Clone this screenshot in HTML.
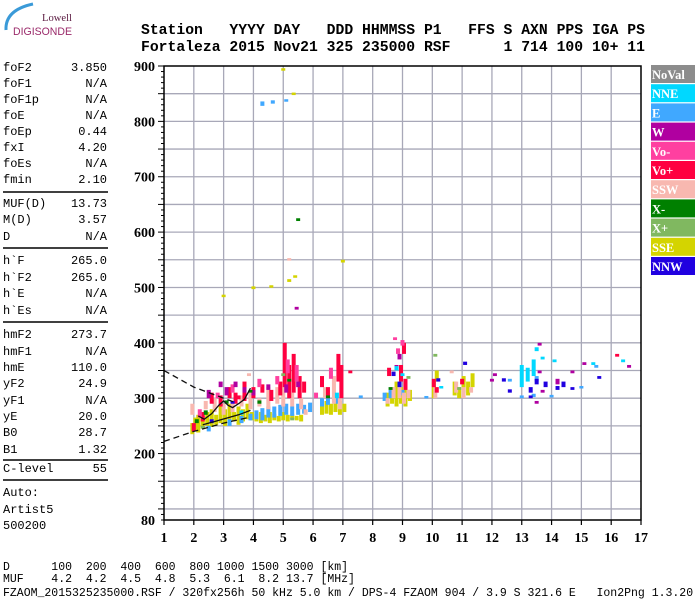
<!DOCTYPE html>
<html><head><meta charset="utf-8">
<style>
html,body{margin:0;padding:0;background:#fff;}
svg{display:block;}
.hdr{font-family:"Liberation Mono",monospace;font-weight:bold;font-size:14.5px;fill:#000;}
.lp{font-family:"Liberation Mono",monospace;font-size:12px;fill:#000;}
.ax{font-family:"Liberation Serif",serif;font-weight:bold;font-size:14px;fill:#000;}
.lg{font-family:"Liberation Serif",serif;font-weight:bold;font-size:12.5px;fill:#fff;}
.bt{font-family:"Liberation Mono",monospace;font-size:11.5px;fill:#000;}
</style></head>
<body>
<svg id="chart" width="700" height="600" viewBox="0 0 700 600" xmlns="http://www.w3.org/2000/svg">
  <g>
    <path d="M6,30 Q5,10 33,4" stroke="#3a9ad8" stroke-width="3" fill="none"/>
    <text x="42" y="21" font-family="Liberation Serif,serif" font-size="11" fill="#5a1a40" textLength="30" lengthAdjust="spacingAndGlyphs">Lowell</text>
    <text x="13" y="35" font-family="Liberation Sans,sans-serif" font-size="11" fill="#9a2a6a" textLength="59" lengthAdjust="spacingAndGlyphs">DIGISONDE</text>
  </g>
  <g>
    <text class="hdr" x="141" y="34" xml:space="preserve" textLength="504" lengthAdjust="spacingAndGlyphs">Station   YYYY DAY   DDD HHMMSS P1   FFS S AXN PPS IGA PS</text>
    <text class="hdr" x="141" y="51" xml:space="preserve" textLength="504" lengthAdjust="spacingAndGlyphs">Fortaleza 2015 Nov21 325 235000 RSF      1 714 100 10+ 11</text>
  </g>
  <g id="leftpanel"></g>
  <g id="grid"></g>
  <g id="echoes"></g>
  <g id="traces"></g>
  <g id="axes"></g>
  <g id="legend"></g>
  <g>
    <text class="bt" x="3" y="570" xml:space="preserve">D      100  200  400  600  800 1000 1500 3000 [km]</text>
    <text class="bt" x="3" y="582" xml:space="preserve">MUF    4.2  4.2  4.5  4.8  5.3  6.1  8.2 13.7 [MHz]</text>
    <text class="bt" x="3" y="596" xml:space="preserve">FZAOM_2015325235000.RSF / 320fx256h 50 kHz 5.0 km / DPS-4 FZAOM 904 / 3.9 S 321.6 E   Ion2Png 1.3.20</text>
  </g>
</svg>
<script>
// ---- data ----
const freqTicks = [1,2,3,4,5,6,7,8,9,10,11,12,13,14,15,16,17];
const heightLabels = [900,800,700,600,500,400,300,200,80];
const gridHeights = [850,800,750,700,650,600,550,500,450,400,350,300,250,200,150,100];
const legendNames = ["NoVal","NNE","E","W","Vo-","Vo+","SSW","X-","X+","SSE","NNW"];
const legendColors = ["#8c8c8c","#00d8ff","#40a8ff","#b000a0","#ff40a0","#ff0040","#f8b8b0","#008000","#80b860","#d4d400","#2000e0"];

// echoes per direction: [freqMHz, lowKm, highKm]
const sseEchoes = [[1.95,235,255],[2.05,240,265],[2.15,238,270],[2.3,245,268],[2.45,250,275],[2.6,248,280],[2.75,252,270],[2.9,255,285],[3.05,250,280],[3.2,255,290],[3.35,258,275],[3.5,252,285],[3.65,258,280],[3.8,262,290],[3.95,260,275],
 [4.1,258,272],[4.25,255,275],[4.4,258,270],[4.55,255,275],[4.7,260,272],[4.85,258,268],[5.0,260,275],[5.15,258,270],[5.3,262,272],[5.45,260,268],[5.6,258,270],
 [6.3,270,290],[6.45,272,295],[6.6,270,290],[6.75,275,292],[6.9,270,295],[7.05,275,290],
 [8.5,285,310],[8.65,290,320],[8.8,285,330],[8.95,290,320],[9.1,285,330],[9.25,295,315],
 [10.05,300,330],[10.15,330,350],[10.75,305,330],[10.9,300,320],[11.05,310,340],[11.2,305,330],[11.35,320,345],
 [3.0,483,487],[4.0,497,502],[4.6,500,504],[5.2,510,515],[5.4,518,522],[5.35,850,852],[5.0,893,896],[7.0,545,550]];
const eEchoes = [[2.5,240,250],[3.2,250,262],[3.6,255,268],[3.9,260,272],[4.1,262,278],[4.3,260,282],[4.5,265,285],[4.7,265,285],[4.9,268,288],[5.1,270,290],[5.3,268,285],[5.5,270,290],[5.7,272,288],[5.9,275,292],[6.3,285,300],[6.5,288,300],[6.8,290,300],[8.4,295,310],[8.6,300,315],[9.0,305,315],[13.0,300,305],[13.4,302,308],[14.0,302,306],[15.0,318,322],[15.5,355,360],[13.5,330,340],[7.6,300,305],[9.8,300,304],[12.6,330,335],[4.3,828,836],[4.65,832,838],[5.1,838,840]];
const voPlusEchoes = [[2.0,240,255],[2.3,258,275],[2.6,290,310],[2.9,285,305],[3.2,300,320],[3.4,290,310],[3.7,295,330],[4.0,300,320],[4.3,310,325],[4.6,295,315],[4.9,305,330],[5.05,320,400],[5.2,300,360],[5.35,310,380],[5.55,300,340],[5.7,310,330],[6.3,320,340],[6.5,300,320],[6.85,330,380],[6.95,300,360],[8.55,340,355],[8.95,330,360],[9.05,380,400],[10.05,320,335],[10.15,310,320],[11.0,325,335],[7.25,345,350],[16.2,375,380],[9.1,315,335],[3.5,298,305]];
const voMinusEchoes = [[2.2,265,280],[2.8,300,310],[3.3,310,325],[4.2,320,335],[4.8,325,340],[5.15,345,370],[5.45,330,360],[6.6,335,355],[8.85,380,390],[8.75,405,410],[9.0,395,405],[6.1,300,310]];
const sswEchoes = [[1.95,270,290],[2.4,280,295],[2.7,275,300],[3.0,270,290],[3.3,275,295],[3.6,285,305],[3.9,280,310],[4.2,285,300],[4.5,280,320],[4.8,290,320],[5.0,285,330],[5.3,285,310],[5.6,280,300],[5.75,270,280],[6.4,300,320],[6.7,290,340],[6.9,280,300],[8.5,290,300],[8.7,300,320],[8.9,300,330],[9.05,290,310],[9.2,300,315],[10.1,300,320],[10.8,310,330],[11.05,300,320],[11.3,310,320],[3.85,340,345],[5.2,550,553],[10.65,345,350]];
const wEchoes = [[2.5,300,315],[2.9,320,330],[3.1,305,320],[3.4,320,330],[3.7,310,320],[4.0,305,315],[4.5,315,325],[5.1,310,325],[5.5,320,330],[8.9,370,380],[12.0,330,335],[12.1,340,345],[13.6,345,350],[13.6,395,400],[14.2,325,335],[14.7,345,350],[15.1,360,365],[16.6,355,360],[13.5,290,295],[13.7,310,315],[5.45,460,465],[8.8,350,360]];
const nneEchoes = [[8.8,350,358],[9.0,340,345],[10.3,318,322],[13.0,320,360],[13.2,330,355],[13.4,340,370],[13.5,385,392],[13.7,370,375],[16.4,365,370],[15.4,360,365],[14.1,365,370],[6.8,300,310],[3.6,270,278]];
const nnwEchoes = [[2.6,255,262],[3.3,290,295],[8.7,340,348],[8.9,320,330],[10.2,330,336],[11.1,360,366],[12.4,330,336],[12.6,310,316],[13.3,310,320],[13.5,325,335],[13.8,320,330],[14.2,315,322],[14.4,320,330],[14.7,315,320],[15.6,335,340],[13.3,300,305]];
const xMinusEchoes = [[2.1,255,262],[2.4,270,278],[3.1,290,296],[3.9,310,315],[4.2,290,296],[5.2,330,335],[8.6,315,320],[6.5,300,305],[5.5,620,625]];
const xPlusEchoes = [[2.3,245,250],[5.0,340,345],[9.2,335,340],[10.1,375,380],[10.9,315,320],[5.3,260,265]];

// trace lines: [freq, height]
const upperDashed = [[1.0,350],[2.0,320],[3.0,300],[3.4,292]];
const lowerDashed = [[1.0,222],[2.0,240],[3.0,255],[3.9,266]];
const traceA = [[2.15,268],[2.35,262],[2.6,272],[2.85,288],[3.0,295],[3.15,287],[3.3,283],[3.5,290],[3.7,298],[3.9,318]];
const traceB = [[2.3,252],[2.7,258],[3.1,264],[3.5,270],[3.9,278]];

const panelRows = [["foF2","3.850",67],["foF1","N/A",83],["foF1p","N/A",99],["foE","N/A",115],["foEp","0.44",131],["fxI","4.20",147],["foEs","N/A",163],["fmin","2.10",179],
 ["MUF(D)","13.73",203],["M(D)","3.57",219],["D","N/A",236],
 ["h`F","265.0",260],["h`F2","265.0",277],["h`E","N/A",293],["h`Es","N/A",310],
 ["hmF2","273.7",334],["hmF1","N/A",351],["hmE","110.0",367],["yF2","24.9",383],["yF1","N/A",400],["yE","20.0",416],["B0","28.7",432],["B1","1.32",449],
 ["C-level","55",468],["Auto:","",492],["Artist5","",509],["500200","",525]];
const panelSeps = [192,248,322,460,480];

// ---- axis functions ----
const X0=164, X1=641, Y0=66, Y1=520;
const fx = f => X0 + (f-1)*(X1-X0)/16;
const hy = h => Y0 + (900-h)*(Y1-Y0)/820;
const NS="http://www.w3.org/2000/svg";
function mk(tag, attrs, parent){const e=document.createElementNS(NS,tag);for(const k in attrs)e.setAttribute(k,attrs[k]);parent.appendChild(e);return e;}

const lp=document.getElementById('leftpanel');
panelRows.forEach(([k,v,y])=>{
  const a=mk('text',{x:3,y:y+4,class:'lp'},lp);a.textContent=k;
  
  
  if(v){const b=mk('text',{x:107,y:y+4,class:'lp','text-anchor':'end'},lp);b.textContent=v;
  
  }
});
panelSeps.forEach(y=>{const l=mk('line',{x1:3,x2:108,y1:y,y2:y,stroke:'#000','stroke-width':1.5},lp);

});

const grid=document.getElementById('grid');
gridHeights.forEach(h=>{const l=mk('line',{x1:X0,x2:X1,y1:hy(h),y2:hy(h),stroke:'#a8a8b8','stroke-width':1.3},grid);

});
freqTicks.slice(1,-1).forEach(f=>{const l=mk('line',{x1:fx(f),x2:fx(f),y1:Y0,y2:Y1,stroke:'#a8a8b8','stroke-width':1.3},grid);

});

const ech=document.getElementById('echoes');
const series=[[sseEchoes,9,'sse'],[eEchoes,2,'e'],[sswEchoes,6,'ssw'],[voPlusEchoes,5,'vo-plus'],[voMinusEchoes,4,'vo-minus'],[wEchoes,3,'w'],[nneEchoes,1,'nne'],[nnwEchoes,10,'nnw'],[xMinusEchoes,7,'x-minus'],[xPlusEchoes,8,'x-plus']];
series.forEach(([arr,ci,nm])=>{
  arr.forEach(([f,lo,hi])=>{
    const y1=hy(hi), y2=hy(lo);
    const r=mk('rect',{x:fx(f)-2,y:y1,width:4,height:Math.max(2.5,y2-y1),fill:legendColors[ci]},ech);
    
    
  });
});

const tr=document.getElementById('traces');
const pts=a=>a.map(([f,h])=>fx(f)+','+hy(h)).join(' ');
[[upperDashed,'6,4','upper-dashed-trace'],[lowerDashed,'6,4','lower-dashed-trace'],[traceA,'','f-trace'],[traceB,'','f-trace-lower']].forEach(([a,d,nm])=>{
  const p=mk('polyline',{points:pts(a),fill:'none',stroke:'#111','stroke-width':1.3,'stroke-dasharray':d||'none'},tr);
  
  
});

const ax=document.getElementById('axes');
const frame=mk('rect',{x:X0,y:Y0,width:X1-X0,height:Y1-Y0,fill:'none',stroke:'#000','stroke-width':1.5},ax);


for(let h=80;h<=900;h+=10){
  const major = h%50===0;
  const l=mk('line',{x1:X0-(major?6:3),x2:X0,y1:hy(h),y2:hy(h),stroke:'#000','stroke-width':1},ax);
  
  
}
heightLabels.forEach(h=>{const t=mk('text',{x:155,y:hy(h)+5,class:'ax','text-anchor':'end'},ax);t.textContent=h;

});
freqTicks.forEach(f=>{
  const l=mk('line',{x1:fx(f),x2:fx(f),y1:Y1,y2:Y1+5,stroke:'#000','stroke-width':1.2},ax);
  
  
  const t=mk('text',{x:fx(f),y:542,class:'ax','text-anchor':'middle'},ax);t.textContent=f;
  
  
});

const lg=document.getElementById('legend');
legendNames.forEach((n,i)=>{
  const y=65+i*19.2;
  const r=mk('rect',{x:651,y:y,width:44,height:18,fill:legendColors[i]},lg);
  
  
  const t=mk('text',{x:652,y:y+14,class:'lg'},lg);t.textContent=n;
  
  
});
</script>
</body></html>
